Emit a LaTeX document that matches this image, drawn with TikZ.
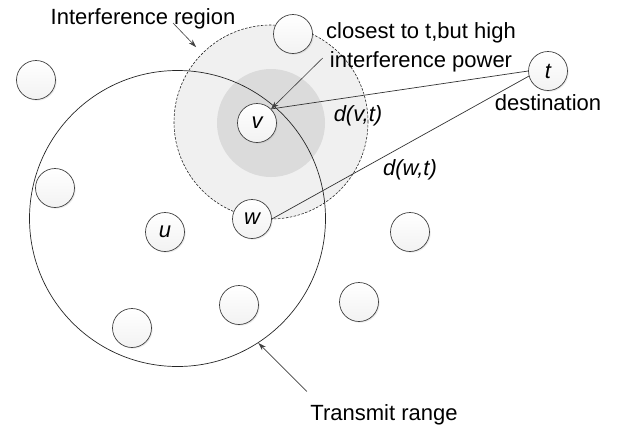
\documentclass[tikz,border=0pt]{standalone}
\usepackage{fontspec}
\setmainfont{Liberation Sans}
\usetikzlibrary{arrows.meta,shadows}

\begin{document}
\begin{tikzpicture}[
  x=1pt,
  y=-1pt,
  font=\fontsize{22}{29}\selectfont,
  nd/.style={circle, draw=black!75, line width=0.7pt, minimum size=39pt, inner sep=0pt,
    top color=white, bottom color=black!5,
    drop shadow={shadow xshift=1.2pt, shadow yshift=-1.2pt, opacity=0.2, fill=black!40},
    font=\fontsize{22}{29}\selectfont\itshape},
  pointer/.style={-{Stealth[length=8pt,width=5pt]}, black!75, line width=0.6pt},
  link/.style={black!80, line width=0.7pt}
]
\useasboundingbox (0,0) rectangle (618,429);

% interference region
\node[circle, fill=black!6, draw=black!85, line width=0.6pt, dash pattern=on 2.5pt off 1.5pt,
  minimum size=194pt, inner sep=0pt] (intf) at (271,122) {};
\node[circle, fill=black!14, minimum size=108pt, inner sep=0pt] (core) at (271,123) {};

% transmit range
\node[circle, draw=black!85, line width=0.7pt, minimum size=296pt, inner sep=0pt] (range) at (177.5,218.5) {};

% nodes
\foreach \i/\px/\py in {1/36/80, 2/293/34, 3/55/188, 4/239/305, 5/132/328, 6/410/232, 7/359/302} {
  \node[nd] (n\i) at (\px,\py) {};
}
\node[nd] (v) at (257,123) {v};
\node[nd] (u) at (165,232) {u};
\node[nd] (w) at (252,219) {w};
\node[nd] (t) at (548,71) {t};

% links to destination
\draw[link] (t.west) -- (v.north east);
\draw[link] (t.195) -- (w.east);

% labels
\node[anchor=base] (irlabel) at (143,24) {Interference region};
\node[align=center] (closest) at (421,47) {closest to t,but high\\interference power};
\node[anchor=base] (dest) at (548,110) {destination};
\node[anchor=base, font=\fontsize{22}{29}\selectfont\itshape] (dvt) at (358,121) {d(v,t)};
\node[anchor=base, font=\fontsize{22}{29}\selectfont\itshape] (dwt) at (410,175) {d(w,t)};
\node[anchor=base] (tr) at (384,420) {Transmit range};

\draw[pointer] ([xshift=30pt,yshift=1pt]irlabel.base) -- ([xshift=-6pt,yshift=6pt]intf.135);
\draw[pointer] ([yshift=-11pt]closest.west) -- (v.north east);
\draw[pointer] ([yshift=9pt]tr.north west) -- (range.-57);
\end{tikzpicture}
\end{document}
